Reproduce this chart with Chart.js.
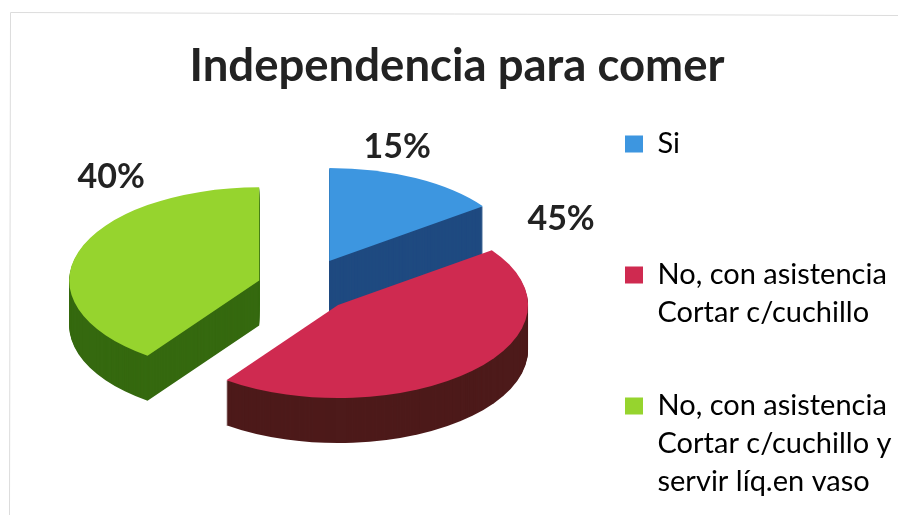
<!DOCTYPE html>
<html>
<head>
<meta charset="utf-8">
<title>Independencia para comer</title>
<script src="https://cdn.jsdelivr.net/npm/chart.js@4"></script>
<style>
  html, body { margin: 0; padding: 0; background: #fff; }
  #wrap { position: relative; width: 898px; height: 515px; }
  canvas { filter: blur(0.45px); }
</style>
</head>
<body>
<div id="wrap"><canvas id="pieChart" width="898" height="515"></canvas></div>
<script>
const chartTitle = 'Independencia para comer';
// blank lines keep the uneven gaps of the legend
const categories = [
  ['Si', '', ''],
  ['No, con asistencia', 'Cortar c/cuchillo', ''],
  ['No, con asistencia', 'Cortar c/cuchillo y', 'servir líq.en vaso']
];
const values = [15, 45, 40];

const topColors = ['#3d96e0', '#cf2a50', '#96d42e'];
const wallColors = ['#1f4a80', '#4d1a1a', '#35690f'];

// look of the fake 3D pie
const tilt = 0.49;
const depth = [52, 45, 45];
const explode = [60, 51, 45];
const labelShift = [[68, -114], [223, -86], [-148, -103]]; // from each slice tip

function sliceMid(arc) {
  return (arc.startAngle + arc.endAngle) / 2;
}

// draws one arc element squashed and pushed out of the centre
function drawSlice(ctx, arc, i, dy) {
  const mid = sliceMid(arc);
  ctx.save();
  ctx.translate(0, dy);
  ctx.translate(arc.x, arc.y);
  ctx.scale(1, tilt);
  ctx.translate(-arc.x, -arc.y);
  ctx.translate(Math.cos(mid) * explode[i], Math.sin(mid) * explode[i]);
  arc.draw(ctx);
  ctx.restore();
}

const pie3d = {
  id: 'pie3d',
  afterLayout(chart) {
    // title sits a bit right of the canvas centre, legend below the title
    chart.titleBlock.left += 8;
    chart.titleBlock.right += 8;
    const dx = 608 - chart.legend.left;
    const dy = 112.5 - chart.legend.top;
    chart.legend.left += dx;
    chart.legend.right += dx;
    chart.legend.top += dy;
    chart.legend.bottom += dy;
  },
  beforeDraw(chart) {
    // thin scan frame
    const ctx = chart.ctx;
    ctx.save();
    ctx.strokeStyle = '#dcdcdc';
    ctx.lineWidth = 1;
    ctx.beginPath();
    ctx.moveTo(9.5, 515);
    ctx.lineTo(10.5, 12.5);
    ctx.lineTo(898, 15.5);
    ctx.stroke();
    ctx.restore();
  },
  beforeDatasetsDraw(chart) {
    const ctx = chart.ctx;
    const arcs = chart.getDatasetMeta(0).data;

    arcs.forEach((arc, i) => {
      const opts = arc.options;
      arc.options = Object.assign({}, opts, { backgroundColor: wallColors[i] });
      for (let d = depth[i]; d > 0; d--) drawSlice(ctx, arc, i, d);
      arc.options = opts;
    });
    arcs.forEach((arc, i) => drawSlice(ctx, arc, i, 0));

    // percent labels
    const total = values.reduce((a, b) => a + b, 0);
    ctx.save();
    ctx.font = 'bold 34px Lato';
    ctx.fillStyle = '#222';
    ctx.textAlign = 'center';
    ctx.textBaseline = 'middle';
    arcs.forEach((arc, i) => {
      const mid = sliceMid(arc);
      const tipX = arc.x + Math.cos(mid) * explode[i];
      const tipY = arc.y + Math.sin(mid) * explode[i] * tilt;
      const text = Math.round(values[i] / total * 100) + '%';
      ctx.fillText(text, tipX + labelShift[i][0], tipY + labelShift[i][1]);
    });
    ctx.restore();
    return false;
  }
};

new Chart(document.getElementById('pieChart').getContext('2d'), {
  type: 'pie',
  data: {
    labels: categories,
    datasets: [{
      data: values,
      backgroundColor: topColors,
      borderWidth: 0,
      radius: 190
    }]
  },
  options: {
    responsive: false,
    animation: false,
    events: [],
    layout: { padding: { left: 0, right: 0, top: 0, bottom: 30 } },
    plugins: {
      tooltip: { enabled: false },
      title: {
        display: true,
        text: chartTitle,
        color: '#222',
        font: { family: 'Lato', size: 45.5, weight: 'bold', lineHeight: 1 },
        padding: { top: 44, bottom: 0 }
      },
      legend: {
        position: 'right',
        align: 'start',
        fullSize: false,
        maxWidth: 294,
        labels: {
          color: '#222',
          font: { family: 'Lato', size: 29, lineHeight: 1.31 },
          boxWidth: 18,
          boxHeight: 17,
          padding: 17,
          generateLabels() {
            return categories.map((text, i) => ({
              text,
              fillStyle: topColors[i],
              strokeStyle: topColors[i],
              lineWidth: 0,
              index: i
            }));
          }
        }
      }
    }
  },
  plugins: [pie3d]
});
</script>
</body>
</html>
